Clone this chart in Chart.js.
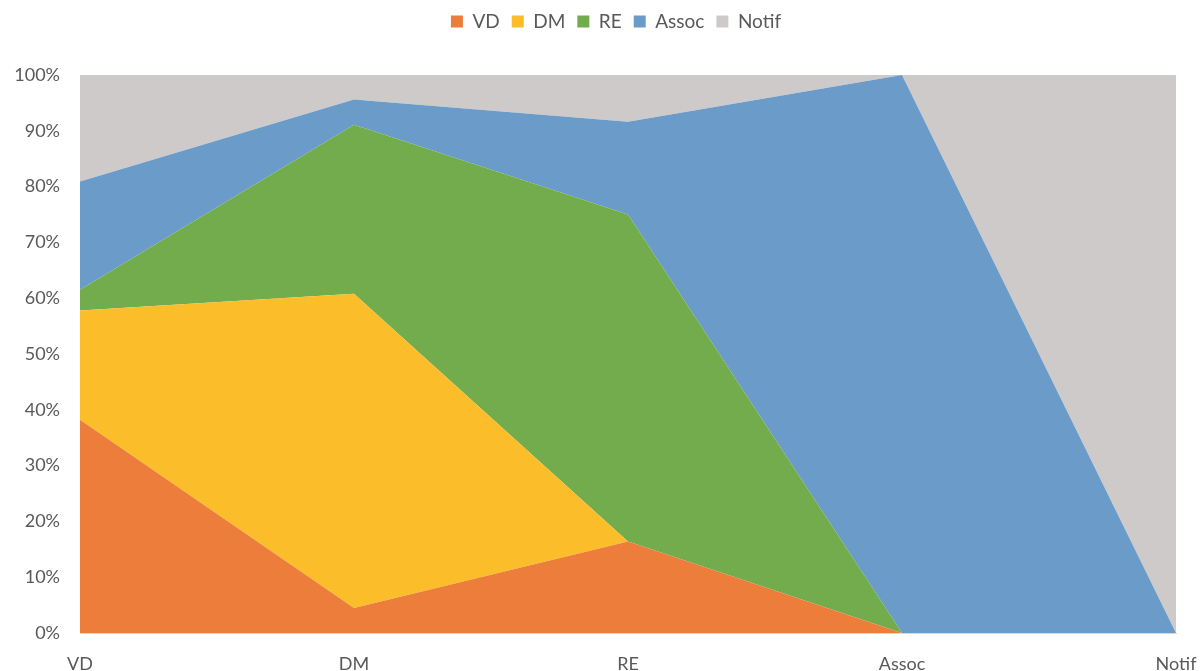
<!DOCTYPE html>
<html>
<head>
<meta charset="utf-8">
<title>Répartition</title>
<script src="https://cdn.jsdelivr.net/npm/chart.js@4/dist/chart.umd.min.js"></script>
<style>
    html, body { margin: 0; padding: 0; background: #fff; }
    #wrap { width: 1201px; height: 671px; position: relative; }
</style>
</head>
<body>
<div id="wrap"><canvas id="mainChart"></canvas></div>
<script>
// Categories and the share (%) of each series per category
const categories = ['VD', 'DM', 'RE', 'Assoc', 'Notif'];
const vdValues = [38.2, 4.5, 16.4, 0, 0];
const dmValues = [19.6, 56.3, 0, 0, 0];
const reValues = [3.7, 30.3, 58.6, 0, 0];
const assocValues = [19.4, 4.5, 16.6, 100, 0];
const notifValues = [19.1, 4.4, 8.4, 0, 100];
const yTicks = [0, 10, 20, 30, 40, 50, 60, 70, 80, 90, 100];

const seriesNames = ['VD', 'DM', 'RE', 'Assoc', 'Notif'];
const seriesData = [vdValues, dmValues, reValues, assocValues, notifValues];
const seriesColors = ['#ED7D3A', '#FBBD29', '#72AC4C', '#6B9CC9', '#CFCACA'];

const datasets = seriesNames.map((name, i) => ({
    label: name,
    data: seriesData[i],
    backgroundColor: seriesColors[i],
    borderColor: seriesColors[i],
    borderWidth: 0,
    pointRadius: 0,
    tension: 0,
    fill: i === 0 ? 'origin' : '-1'
}));

// Fix the legend block height and center it over the plot area
const legendPlacement = {
    id: 'legendPlacement',
    beforeInit(chart) {
        const fit = chart.legend.fit;
        chart.legend.fit = function () {
            fit.call(this);
            this.height = 75;
        };
    },
    afterLayout(chart) {
        chart.legend.left += 56;
    }
};

const ctx = document.getElementById('mainChart').getContext('2d');
const mainChart = new Chart(ctx, {
    type: 'line',
    data: { labels: categories, datasets: datasets },
    plugins: [legendPlacement],
    options: {
        responsive: true,
        maintainAspectRatio: false,
        animation: false,
        layout: { padding: { left: 0, right: 25, top: 0, bottom: 0 } },
        plugins: {
            legend: {
                position: 'top',
                labels: {
                    boxWidth: 12,
                    boxHeight: 12,
                    padding: 12,
                    color: '#595959',
                    font: { family: 'Lato', size: 19 }
                }
            },
            tooltip: { enabled: false }
        },
        scales: {
            y: {
                stacked: true,
                min: 0,
                max: 100,
                z: 1,
                afterFit: (scale) => { scale.width = 80; },
                afterBuildTicks: (scale) => {
                    scale.ticks = yTicks.map(v => ({ value: v }));
                },
                border: { display: false },
                grid: {
                    color: 'rgba(0, 0, 0, 0.09)',
                    drawTicks: false
                },
                ticks: {
                    padding: 20,
                    color: '#595959',
                    font: { family: 'Lato', size: 18 },
                    callback: (v) => v + '%'
                }
            },
            x: {
                z: 1,
                afterFit: (scale) => {
                    scale.height = 38;
                    scale.paddingLeft = 0;
                    scale.paddingRight = 0;
                },
                border: { display: true, color: '#D9D9D9', width: 1 },
                grid: { display: false, drawTicks: false },
                ticks: {
                    padding: 20,
                    maxRotation: 0,
                    autoSkip: false,
                    color: '#595959',
                    font: { family: 'Lato', size: 18 }
                }
            }
        }
    }
});
</script>
</body>
</html>
